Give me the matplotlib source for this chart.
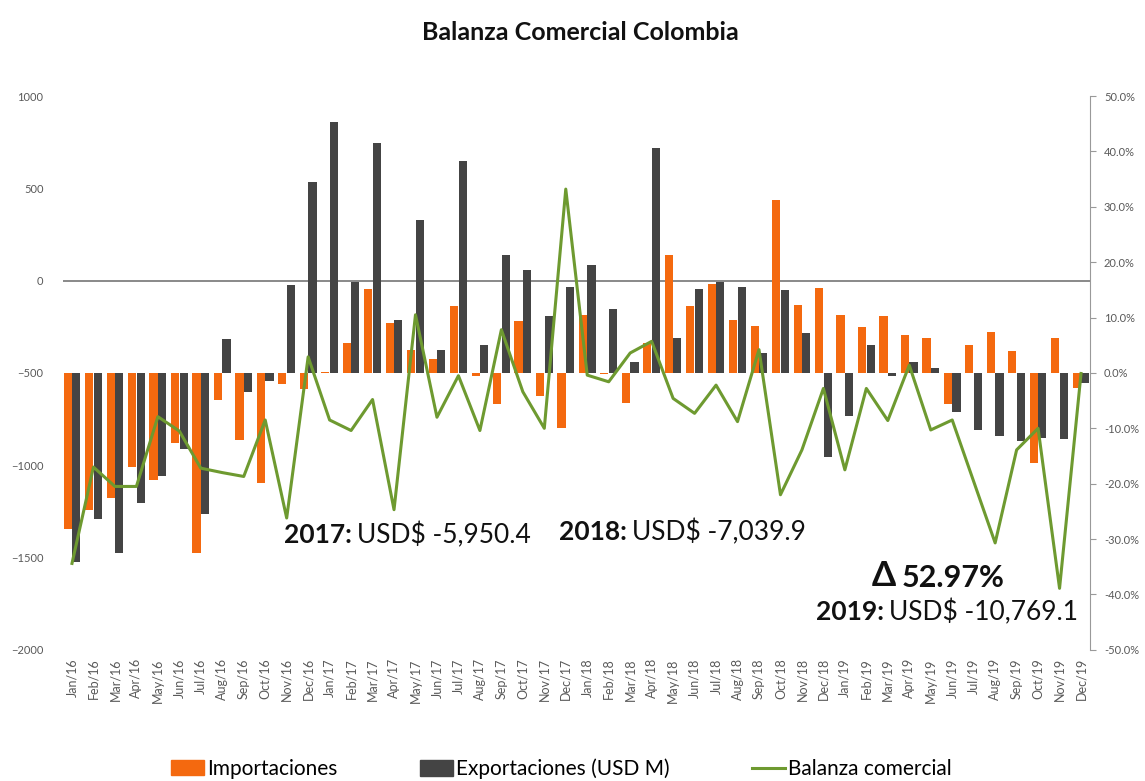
import matplotlib
matplotlib.use("Agg")
import matplotlib.pyplot as plt
import numpy as np
from matplotlib.patches import Patch
from matplotlib.lines import Line2D

plt.rcParams['font.family'] = ['Lato', 'DejaVu Sans']

# Data
months = ["Jan", "Feb", "Mar", "Apr", "May", "Jun", "Jul", "Aug", "Sep", "Oct", "Nov", "Dec"]
labels = [f"{m}/{y}" for y in ["16", "17", "18", "19"] for m in months]

importaciones = [-1343, -1240, -1177, -1009, -1081, -879, -1478, -644, -861, -1099, -558, -586,
                 -495, -337, -45, -229, -374, -424, -139, -514, -671, -220, -626, -801,
                 -184, -505, -661, -337, 141, -139, -18, -215, -244, 437, -130, -40,
                 -184, -251, -190, -292, -310, -668, -346, -278, -383, -987, -310, -581]

exportaciones = [-1525, -1294, -1474, -1207, -1060, -911, -1267, -316, -603, -545, -22, 534,
                 857, -5, 745, -213, 330, -374, 646, -350, 141, 56, -190, -34,
                 87, -152, -442, 718, -310, -43, -8, -34, -392, -49, -283, -955,
                 -735, -346, -514, -442, -473, -711, -810, -843, -870, -852, -857, -554]

balanza = [-34.4, -17.0, -20.5, -20.5, -7.9, -10.5, -17.2, -18.0, -18.7, -8.5, -26.2, 2.9,
           -8.5, -10.4, -4.8, -24.7, 10.5, -8.0, -0.5, -10.4, 7.8, -3.4, -10.0, 33.2,
           -0.4, -1.6, 3.6, 5.7, -4.6, -7.3, -2.2, -8.8, 4.2, -22.0, -13.9, -2.8,
           -17.5, -2.8, -8.6, 1.4, -10.3, -8.5, -19.6, -30.7, -13.9, -10.0, -38.9, -0.1]

baseline = -500
orange = "#F4690F"
dark = "#444444"
green = "#6E9A30"
tick_col = "#595959"

fig = plt.figure(figsize=(11.45, 7.81), dpi=100)
ax = fig.add_axes([0.055, 0.168, 0.897, 0.709])
ax2 = ax.twinx()

x = np.arange(len(labels))
w = 0.38
ax.bar(x - 0.2, np.array(importaciones) - baseline, bottom=baseline, width=w, color=orange, zorder=2)
ax.bar(x + 0.2, np.array(exportaciones) - baseline, bottom=baseline, width=w, color=dark, zorder=2)
ax.axhline(0, color="#808080", lw=1.3, zorder=1)

ax.set_xlim(-0.42, len(labels) - 1 + 0.42)
ax.set_ylim(-2000, 1000)
ax.set_yticks([-2000, -1500, -1000, -500, 0, 500, 1000])
ax.set_xticks(x)
ax.set_xticklabels(labels, rotation=90, fontsize=9, color=tick_col)
ax.tick_params(axis="x", length=0, pad=6)
ax.tick_params(axis="y", length=0, labelsize=8, labelcolor=tick_col, pad=14)
for s in ax.spines.values():
    s.set_visible(False)

ax2.plot(x, balanza, color=green, lw=2.2, zorder=3)
ax2.set_ylim(-50, 50)
ax2.set_yticks(np.arange(-50, 51, 10))
ax2.set_yticklabels([f"{v:.1f}%" for v in np.arange(-50, 51, 10)])
ax2.tick_params(axis="y", length=4, color="#999999", labelsize=8, labelcolor=tick_col, pad=6)
for k, s in ax2.spines.items():
    s.set_visible(k == "right")
ax2.spines["right"].set_color("#999999")

# Title
fig.text(580 / 1145, 1 - 32 / 781, "Balanza Comercial Colombia", ha="center", va="center",
         fontsize=18, fontweight="bold", color="#111111")

# Annotations
def year_note(xb, yc, year, value):
    fig.text(xb / 1145, 1 - yc / 781, f"{year}:", ha="right", va="center",
             fontsize=19, fontweight="bold", color="#111111")
    fig.text(xb / 1145 + 0.004, 1 - yc / 781, f"USD$ {value}", ha="left", va="center",
             fontsize=19, color="#111111")

year_note(352, 535, "2017", "-5,950.4")
year_note(627, 532, "2018", "-7,039.9")
year_note(884, 612, "2019", "-10,769.1")
fig.text(872 / 1145, 1 - 576 / 781, "Δ", ha="left", va="center",
         fontsize=25, fontweight="bold", color="#111111")
fig.text(902 / 1145, 1 - 578 / 781, "52.97%", ha="left", va="center",
         fontsize=22, fontweight="bold", color="#111111")

# Legend (one entry per legend so each sits where the reference has it)
entries = [
    (Patch(color=orange), "Importaciones", 171),
    (Patch(color=dark), "Exportaciones (USD M)", 420),
    (Line2D([0], [0], color=green, lw=2.2), "Balanza comercial", 752),
]
for handle, name, xpix in entries:
    fig.legend([handle], [name], loc="center left", bbox_to_anchor=(xpix / 1145, 1 - 769 / 781),
               frameon=False, fontsize=15, handlelength=1.6, handletextpad=0.15,
               handleheight=0.75, borderpad=0, borderaxespad=0)

fig.savefig("out.png", dpi=100)
